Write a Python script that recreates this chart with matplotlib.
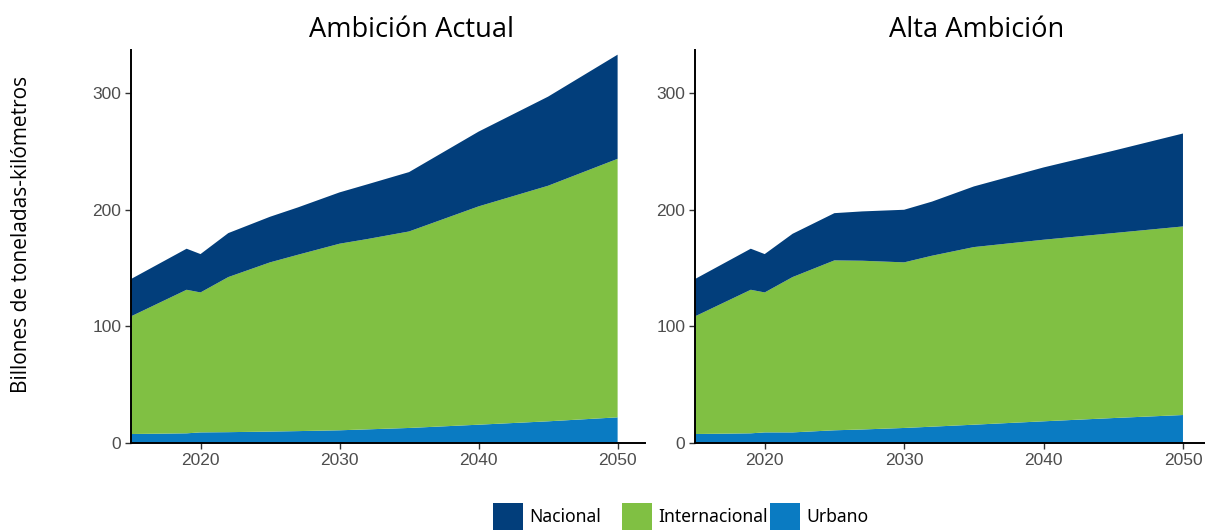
import matplotlib
matplotlib.use("Agg")
import matplotlib.pyplot as plt
from matplotlib.patches import Rectangle

# Years sampled for both scenarios
years = [2015, 2019, 2020, 2022, 2025, 2027, 2030, 2032, 2035, 2040, 2045, 2050]

# Ambición Actual (billones de toneladas-km)
actual_urbano = [7.7, 8.3, 9.1, 9.3, 9.8, 10.2, 10.9, 11.7, 12.9, 15.7, 18.6, 22.0]
actual_internacional = [100.9, 123.1, 120.0, 133.0, 145.1, 151.2, 160.0, 163.2, 168.5, 187.2, 202.0, 221.7]
actual_nacional = [32.0, 35.2, 32.9, 37.7, 39.1, 40.6, 44.0, 46.9, 50.9, 64.1, 76.4, 89.3]

# Alta Ambición
alta_urbano = [7.7, 8.3, 9.1, 9.1, 10.9, 11.6, 12.9, 14.0, 15.7, 18.6, 21.4, 24.0]
alta_internacional = [100.9, 123.1, 120.0, 133.2, 145.7, 144.7, 142.0, 146.6, 152.3, 155.7, 158.6, 161.7]
alta_nacional = [32.0, 35.2, 32.9, 37.1, 40.5, 42.3, 45.1, 46.4, 52.0, 62.0, 70.6, 79.7]

titles = ["Ambición Actual", "Alta Ambición"]
series_names = ["Nacional", "Internacional", "Urbano"]
colors = {"Nacional": "#023e7b", "Internacional": "#80c043", "Urbano": "#0a7bc2"}
x_ticks = [2020, 2030, 2040, 2050]
y_ticks = [0, 100, 200, 300]
y_label = "Billones de toneladas-kilómetros"

panels = [
    (actual_urbano, actual_internacional, actual_nacional),
    (alta_urbano, alta_internacional, alta_nacional),
]

W, H = 1205, 530
fig = plt.figure(figsize=(W / 100, H / 100), dpi=100)
# (axes rectangle, right x-limit, horizontal title position in axes units)
ax_specs = [
    ([131 / W, 1 - 443 / H, (645 - 131) / W, (443 - 50) / H], 2051.97, 0.545),
    ([695 / W, 1 - 443 / H, (1205 - 695) / W, (443 - 50) / H], 2051.58, 0.553),
]

tick_font = ["Liberation Sans", "DejaVu Sans"]
text_font = ["Open Sans", "DejaVu Sans"]

for (rect, xmax, tx), title, (urb, intl, nac) in zip(ax_specs, titles, panels):
    ax = fig.add_axes(rect)
    ax.stackplot(
        years, urb, intl, nac,
        colors=[colors["Urbano"], colors["Internacional"], colors["Nacional"]],
        linewidth=0,
    )
    ax.set_xlim(2015, xmax)
    ax.set_ylim(0, 337)
    ax.set_xticks(x_ticks)
    ax.set_yticks(y_ticks)
    for s in ["top", "right"]:
        ax.spines[s].set_visible(False)
    for s in ["left", "bottom"]:
        ax.spines[s].set_linewidth(1.4)
        ax.spines[s].set_color("black")
    ax.tick_params(axis="both", direction="out", length=4, width=1.0,
                   color="#333333", labelcolor="#4d4d4d", labelsize=12.5, pad=3)
    for lbl in ax.get_xticklabels() + ax.get_yticklabels():
        lbl.set_fontfamily(tick_font)
    ax.set_title(title, fontsize=19.6, family=text_font, pad=9.5, color="black", x=tx)

fig.text(22 / W, 1 - 234 / H, y_label, rotation=90, ha="center", va="center",
         fontsize=15, family=text_font, color="black")

# Legend drawn along the bottom of the figure
legend_items = [("Nacional", 493), ("Internacional", 622), ("Urbano", 770)]
for name, px in legend_items:
    fig.patches.append(Rectangle((px / W, 0), 30 / W, 27 / H,
                                 transform=fig.transFigure, facecolor=colors[name],
                                 edgecolor="none"))
    fig.text((px + 36) / W, 1 - 517 / H, name, ha="left", va="center",
             fontsize=12.6, family=["Noto Sans", "DejaVu Sans"], color="black")

fig.savefig("out.png", dpi=100)
